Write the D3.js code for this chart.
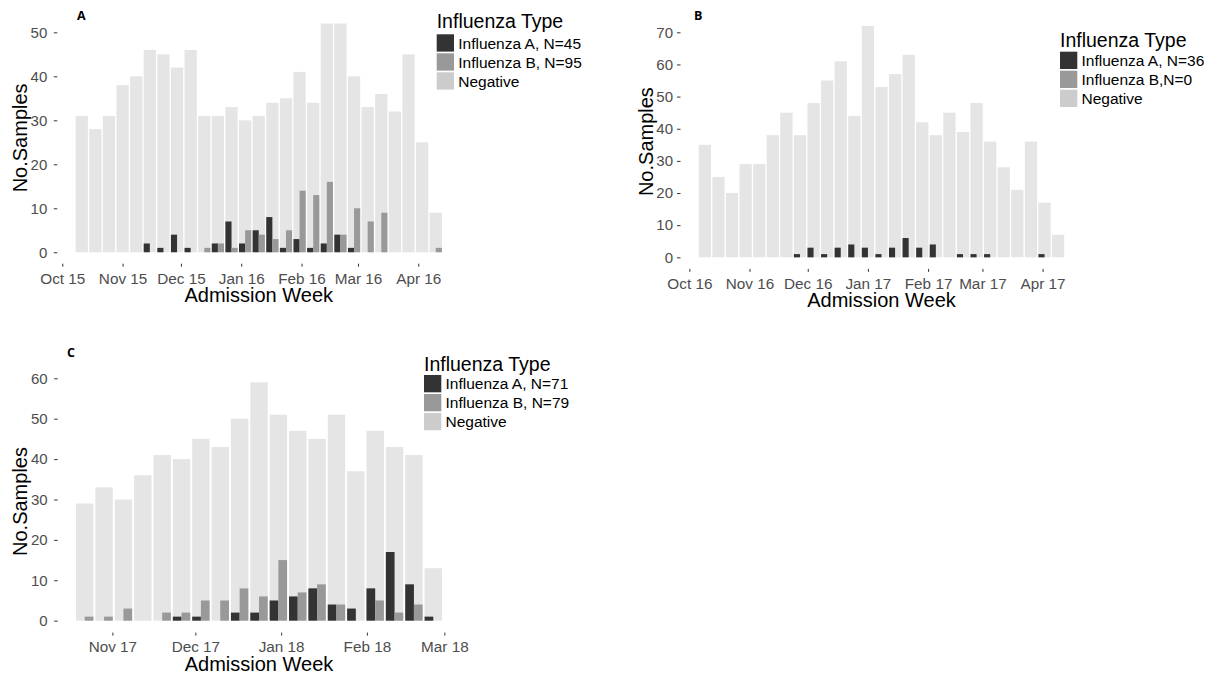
<!DOCTYPE html>
<html>
<head>
<meta charset="utf-8">
<script src="https://cdn.jsdelivr.net/npm/d3@7"></script>
<style>
  body { margin: 0; background: #fff; }
  svg text { font-family: "Liberation Sans", Arial, sans-serif; }
</style>
</head>
<body>
<svg id="chart" width="1213" height="675"></svg>
<script>
// ---- data ----
const weeksA = ["2015-10-11","2015-10-18","2015-10-25","2015-11-01","2015-11-08","2015-11-15","2015-11-22","2015-11-29",
  "2015-12-06","2015-12-13","2015-12-20","2015-12-27","2016-01-03","2016-01-10","2016-01-17","2016-01-24","2016-01-31",
  "2016-02-07","2016-02-14","2016-02-21","2016-02-28","2016-03-06","2016-03-13","2016-03-20","2016-03-27","2016-04-03","2016-04-10"];
const totalA = [31,28,31,38,40,46,45,42,46,31,31,33,30,31,34,35,41,34,52,52,40,33,36,32,45,25,9];
const fluA_A = [0,0,0,0,0,2,1,4,1,0,2,7,2,5,8,1,3,1,2,4,1,0,0,0,0,0,0];
const fluB_A = [0,0,0,0,0,0,0,0,0,1,2,1,5,4,3,5,14,13,16,4,10,7,9,0,0,0,1];
const legendA = ["Influenza A, N=45", "Influenza B, N=95", "Negative"];

const weeksB = ["2016-10-09","2016-10-16","2016-10-23","2016-10-30","2016-11-06","2016-11-13","2016-11-20","2016-11-27",
  "2016-12-04","2016-12-11","2016-12-18","2016-12-25","2017-01-01","2017-01-08","2017-01-15","2017-01-22","2017-01-29",
  "2017-02-05","2017-02-12","2017-02-19","2017-02-26","2017-03-05","2017-03-12","2017-03-19","2017-03-26","2017-04-02","2017-04-09"];
const totalB = [35,25,20,29,29,38,45,38,48,55,61,44,72,53,57,63,42,38,45,39,48,36,28,21,36,17,7];
const fluA_B = [0,0,0,0,0,0,0,1,3,1,3,4,3,1,3,6,3,4,0,1,1,1,0,0,0,1,0];
const fluB_B = [0,0,0,0,0,0,0,0,0,0,0,0,0,0,0,0,0,0,0,0,0,0,0,0,0,0,0];
const legendB = ["Influenza A, N=36", "Influenza B,N=0", "Negative"];

const weeksC = ["2017-10-22","2017-10-29","2017-11-05","2017-11-12","2017-11-19","2017-11-26","2017-12-03","2017-12-10",
  "2017-12-17","2017-12-24","2017-12-31","2018-01-07","2018-01-14","2018-01-21","2018-01-28","2018-02-04","2018-02-11",
  "2018-02-18","2018-02-25"];
const totalC = [29,33,30,36,41,40,45,43,50,59,51,47,45,51,37,47,43,41,13];
const fluA_C = [0,0,0,0,0,1,1,0,2,2,5,6,8,4,3,8,17,9,1];
const fluB_C = [1,1,3,0,2,2,5,5,8,6,15,7,9,4,0,5,2,4,0];
const legendC = ["Influenza A, N=71", "Influenza B, N=79", "Negative"];

const yTicksA = [0,10,20,30,40,50];
const yTicksB = [0,10,20,30,40,50,60,70];
const yTicksC = [0,10,20,30,40,50,60];

// ---- look ----
const barColors = ["#333333", "#999999", "#e5e5e5"];
const keyColors = ["#333333", "#999999", "#cccccc"];
const DAY = 86400000;

const svg = d3.select("#chart");

function drawPanel(p) {
  const dates = p.weeks.map(d => new Date(d + "T00:00:00Z"));
  const halfW = 0.9 * 7 * DAY / 2;
  const x0 = +dates[0] - halfW, x1 = +dates[dates.length - 1] + halfW;
  const xPad = (x1 - x0) * 0.05;
  const x = d3.scaleUtc()
    .domain([new Date(x0 - xPad), new Date(x1 + xPad)])
    .range([p.left, p.right]);
  const yMax = d3.max(p.total);
  const y = d3.scaleLinear()
    .domain([-0.05 * yMax, 1.05 * yMax])
    .range([p.bottom, p.top]);

  const g = svg.append("g");
  const rows = dates.map((d, i) => ({ d, total: p.total[i], a: p.fluA[i], b: p.fluB[i] }));

  // negative (total) bars, full width
  g.append("g").selectAll("rect").data(rows).join("rect")
    .attr("x", r => x(new Date(+r.d - halfW)))
    .attr("width", r => x(new Date(+r.d + halfW)) - x(new Date(+r.d - halfW)))
    .attr("y", r => y(r.total))
    .attr("height", r => y(0) - y(r.total))
    .attr("fill", barColors[2]);

  // influenza A, left half
  g.append("g").selectAll("rect").data(rows.filter(r => r.a > 0)).join("rect")
    .attr("x", r => x(new Date(+r.d - halfW)))
    .attr("width", r => x(r.d) - x(new Date(+r.d - halfW)))
    .attr("y", r => y(r.a))
    .attr("height", r => y(0) - y(r.a))
    .attr("fill", barColors[0]);

  // influenza B, right half
  g.append("g").selectAll("rect").data(rows.filter(r => r.b > 0)).join("rect")
    .attr("x", r => x(r.d))
    .attr("width", r => x(new Date(+r.d + halfW)) - x(r.d))
    .attr("y", r => y(r.b))
    .attr("height", r => y(0) - y(r.b))
    .attr("fill", barColors[1]);

  // y axis
  const yAxis = g.append("g")
    .attr("transform", `translate(${p.left},0)`)
    .call(d3.axisLeft(y).tickValues(p.yTicks).tickSize(3.5).tickPadding(p.yPad).tickFormat(d3.format("d")));
  yAxis.select(".domain").remove();
  yAxis.selectAll(".tick line").attr("stroke", "#333").attr("stroke-width", 1);
  yAxis.selectAll("text").attr("fill", "#4d4d4d").style("font-size", "15px");

  // x axis
  const xAxis = g.append("g")
    .attr("transform", `translate(0,${p.bottom})`)
    .call(d3.axisBottom(x).ticks(d3.utcMonth.every(1)).tickSize(3).tickPadding(6).tickFormat(d3.utcFormat("%b %y")));
  xAxis.select(".domain").remove();
  xAxis.selectAll(".tick line").attr("stroke", "#333").attr("stroke-width", 1);
  xAxis.selectAll("text").attr("fill", "#4d4d4d").style("font-size", "15.3px");

  // axis titles
  g.append("text")
    .attr("x", (p.left + p.right) / 2)
    .attr("y", p.bottom + 38.5)
    .attr("text-anchor", "middle")
    .style("font-size", "20px")
    .text("Admission Week");
  g.append("text")
    .attr("transform", `translate(${p.left - p.yTitleOff},${(p.top + p.bottom) / 2}) rotate(-90)`)
    .attr("text-anchor", "middle")
    .style("font-size", "20px")
    .text("No.Samples");

  // panel letter
  g.append("text")
    .attr("x", p.tag[0]).attr("y", p.tag[1])
    .style("font-family", "'Open Sans', sans-serif")
    .style("font-weight", "bold")
    .style("font-size", "12.5px")
    .text(p.letter);

  // legend
  const lg = g.append("g").attr("transform", `translate(${p.legend[0]},${p.legend[1]})`);
  lg.append("text").attr("x", 0).attr("y", 0).style("font-size", "19.5px").text("Influenza Type");
  const items = lg.selectAll("g.item").data(p.legendLabels).join("g")
    .attr("class", "item")
    .attr("transform", (d, i) => `translate(0,${p.keyTop + i * 19})`);
  items.append("rect").attr("width", 17.3).attr("height", 17.3).attr("fill", (d, i) => keyColors[i]);
  items.append("text").attr("x", 21.5).attr("y", 8.8).attr("dy", "0.35em")
    .style("font-size", "15.5px").text(d => d);
}

drawPanel({ letter: "A", weeks: weeksA, total: totalA, fluA: fluA_A, fluB: fluB_A, yTicks: yTicksA,
  legendLabels: legendA, left: 57.3, right: 460.2, top: 12.1, bottom: 263.7, yPad: 6.5, yTitleOff: 30.6,
  tag: [77, 19.5], legend: [436.7, 28], keyTop: 6.3 });
drawPanel({ letter: "B", weeks: weeksB, total: totalB, fluA: fluA_B, fluB: fluB_B, yTicks: yTicksB,
  legendLabels: legendB, left: 680.5, right: 1082.5, top: 14.3, bottom: 268.9, yPad: 4, yTitleOff: 27.5,
  tag: [694, 20], legend: [1060, 46.7], keyTop: 5 });
drawPanel({ letter: "C", weeks: weeksC, total: totalC, fluA: fluA_C, fluB: fluB_C, yTicks: yTicksC,
  legendLabels: legendC, left: 57.7, right: 460.3, top: 370.4, bottom: 632.6, yPad: 6.5, yTitleOff: 30.4,
  tag: [67, 357], legend: [424, 371], keyTop: 4 });
</script>
</body>
</html>
